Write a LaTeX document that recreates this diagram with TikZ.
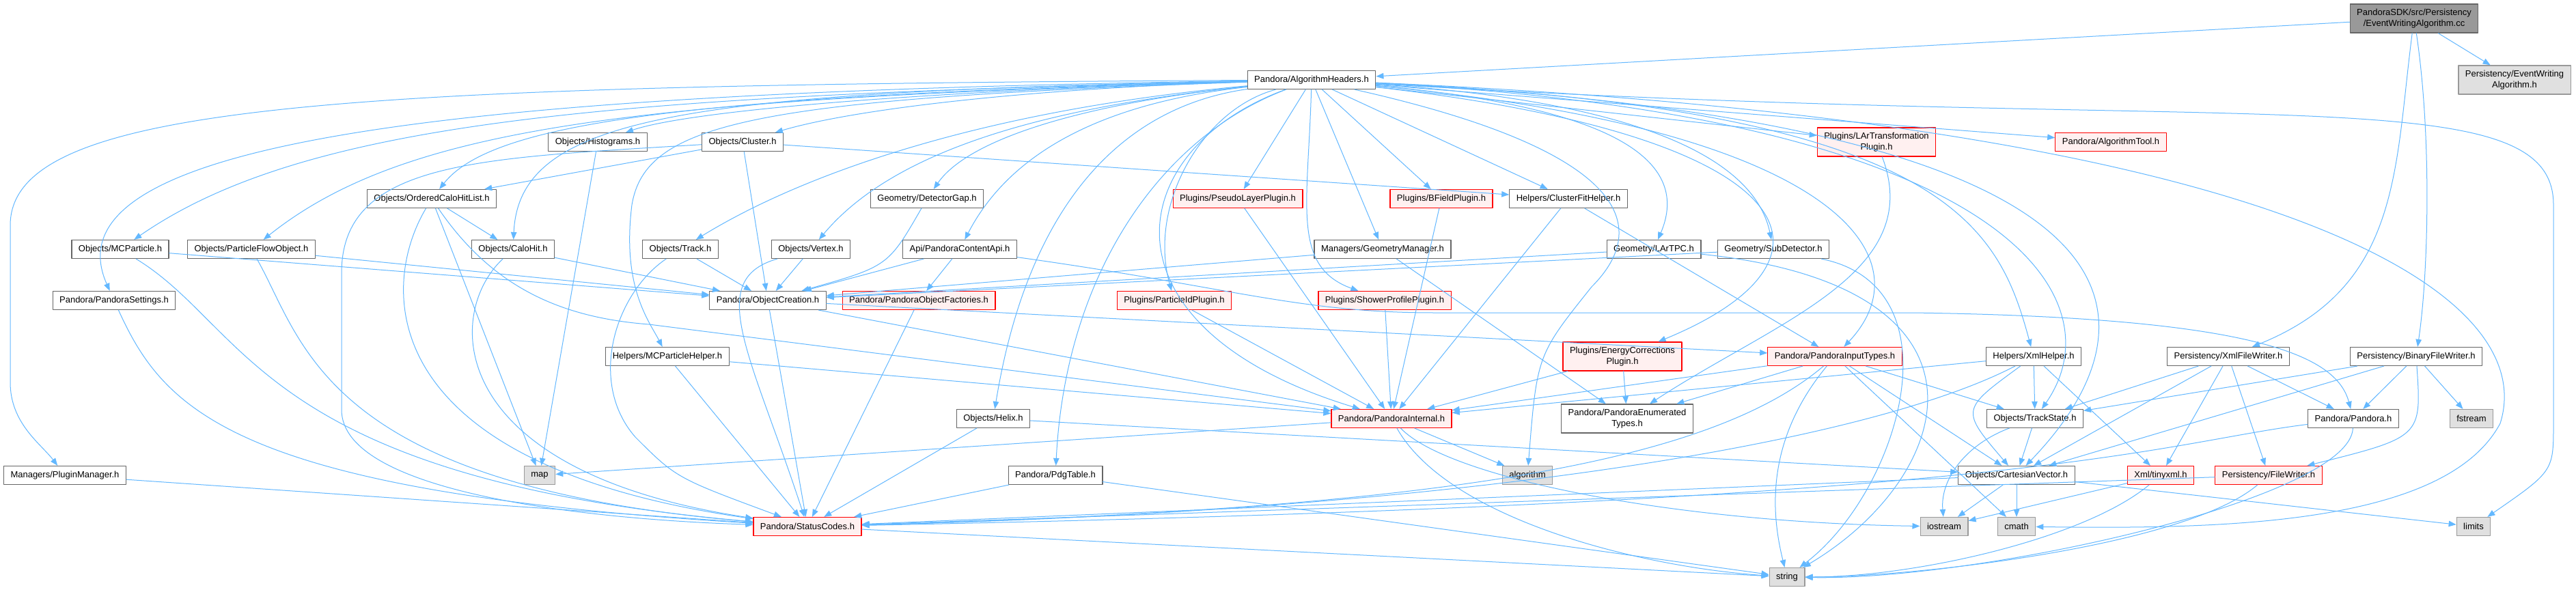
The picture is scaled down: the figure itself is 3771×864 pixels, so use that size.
\documentclass[tikz,border=0pt]{standalone}
\usepackage{fontspec}
\setmainfont{Liberation Sans}
\usetikzlibrary{arrows.meta}

\definecolor{edgeblue}{HTML}{63B8FF}
\definecolor{boxline}{HTML}{666666}
\definecolor{sysline}{HTML}{999999}
\definecolor{sysfill}{HTML}{E0E0E0}
\definecolor{redfill}{HTML}{FFF0F0}
\definecolor{rootfill}{HTML}{999999}

\begin{document}
\begin{tikzpicture}[x=1pt,y=1pt,font=\rmfamily, line cap=round, line join=round]

% ---------- styles ----------
\tikzset{
  hdr/.style={draw=boxline, fill=white, line width=1.2pt, inner xsep=10pt, inner ysep=7pt,
    minimum height=27pt, align=center, font=\fontsize{13}{16}\selectfont},
  hdrred/.style={hdr, draw=red, fill=redfill},
  hdrsys/.style={hdr, draw=sysline, fill=sysfill},
  hdrroot/.style={hdr, draw=boxline, fill=rootfill},
  dep/.style={draw=edgeblue, line width=1pt, -{Triangle[length=11pt,width=8.5pt]}},
}

% ---------- canvas ----------
\fill[white] (0,0) rectangle (3771,-864);
\useasboundingbox (0,0) rectangle (3771,-864);

% ---------- top ----------
\node[hdrroot] (cc) at (3534,-27) {PandoraSDK/src/Persistency\\/EventWritingAlgorithm.cc};
\node[hdrsys] (ewah) at (3681,-117) {Persistency/EventWriting\\Algorithm.h};
\node[hdr] (ah) at (1920,-117) {Pandora/AlgorithmHeaders.h};

% ---------- row 2 ----------
\node[hdr] (hist) at (875,-208) {Objects/Histograms.h};
\node[hdr] (clus) at (1087,-208) {Objects/Cluster.h};
\node[hdrred] (lart) at (2747,-208) {Plugins/LArTransformation\\Plugin.h};
\node[hdrred] (atool) at (3090,-208) {Pandora/AlgorithmTool.h};

% ---------- row 3 ----------
\node[hdr] (ochl) at (632,-291) {Objects/OrderedCaloHitList.h};
\node[hdr] (dgap) at (1357,-291) {Geometry/DetectorGap.h};
\node[hdrred] (psl) at (1812,-291) {Plugins/PseudoLayerPlugin.h};
\node[hdrred] (bfp) at (2110,-291) {Plugins/BFieldPlugin.h};
\node[hdr] (cfh) at (2296,-291) {Helpers/ClusterFitHelper.h};

% ---------- row 4 ----------
\node[hdr] (mcp) at (176,-365) {Objects/MCParticle.h};
\node[hdr] (pfo) at (368,-365) {Objects/ParticleFlowObject.h};
\node[hdr] (chit) at (751,-365) {Objects/CaloHit.h};
\node[hdr] (trk) at (996,-365) {Objects/Track.h};
\node[hdr] (vtx) at (1187,-365) {Objects/Vertex.h};
\node[hdr] (capi) at (1405,-365) {Api/PandoraContentApi.h};
\node[hdr] (gmgr) at (2024,-365) {Managers/GeometryManager.h};
\node[hdr] (tpc) at (2421,-365) {Geometry/LArTPC.h};
\node[hdr] (subd) at (2596,-365) {Geometry/SubDetector.h};

% ---------- row 5 ----------
\node[hdr] (pset) at (167,-440) {Pandora/PandoraSettings.h};
\node[hdr] (ocr) at (1124,-440) {Pandora/ObjectCreation.h};
\node[hdrred] (pof) at (1345,-440) {Pandora/PandoraObjectFactories.h};
\node[hdrred] (pid) at (1719,-440) {Plugins/ParticleIdPlugin.h};
\node[hdrred] (spp) at (2027,-440) {Plugins/ShowerProfilePlugin.h};

% ---------- row 6 ----------
\node[hdr] (mcph) at (977,-522) {Helpers/MCParticleHelper.h};
\node[hdrred] (ecp) at (2375,-522) {Plugins/EnergyCorrections\\Plugin.h};
\node[hdrred] (pit) at (2686,-522) {Pandora/PandoraInputTypes.h};
\node[hdr] (xmlh) at (2977,-522) {Helpers/XmlHelper.h};
\node[hdr] (xfw) at (3262,-522) {Persistency/XmlFileWriter.h};
\node[hdr] (bfw) at (3537,-522) {Persistency/BinaryFileWriter.h};

% ---------- row 7 ----------
\node[hdr] (helix) at (1454,-613) {Objects/Helix.h};
\node[hdrred] (pint) at (2037,-613) {Pandora/PandoraInternal.h};
\node[hdr] (penum) at (2382,-613) {Pandora/PandoraEnumerated\\Types.h};
\node[hdr] (tst) at (2979,-613) {Objects/TrackState.h};
\node[hdr] (pandora) at (3445,-613) {Pandora/Pandora.h};
\node[hdrsys] (fstream) at (3618,-613) {fstream};

% ---------- row 8 ----------
\node[hdr] (pmgr) at (95,-696) {Managers/PluginManager.h};
\node[hdrsys] (map) at (790,-696) {map};
\node[hdr] (pdg) at (1545,-696) {Pandora/PdgTable.h};
\node[hdrsys] (algo) at (2236,-696) {algorithm};
\node[hdr] (cvec) at (2952,-696) {Objects/CartesianVector.h};
\node[hdrred] (txml) at (3163,-696) {Xml/tinyxml.h};
\node[hdrred] (fw) at (3321,-696) {Persistency/FileWriter.h};

% ---------- bottom ----------
\node[hdrred] (scodes) at (1182,-771) {Pandora/StatusCodes.h};
\node[hdrsys] (iostream) at (2846,-771) {iostream};
\node[hdrsys] (cmath) at (2952,-771) {cmath};
\node[hdrsys] (limits) at (3621,-771) {limits};
\node[hdrsys] (string) at (2616,-845) {string};

% ---------- root includes ----------
\draw[dep] (cc) -- (ah);
\draw[dep] (cc) -- (ewah);
\draw[dep] (cc) .. controls (3505,-250) and (3515,-420) .. (xfw);
\draw[dep] (cc) .. controls (3560,-200) and (3555,-400) .. (bfw);

% ---------- AlgorithmHeaders.h includes ----------
\draw[dep] (ah) -- (psl);
\draw[dep] (ah) -- (bfp);
\draw[dep] (ah) -- (cfh);
\draw[dep] (ah) -- (gmgr);
\draw[dep] (ah) -- (lart);
\draw[dep] (ah) -- (atool);
\draw[dep] (ah) .. controls (1300,-135) and (1000,-165) .. (hist);
\draw[dep] (ah) .. controls (1500,-130) and (1250,-160) .. (clus);
\draw[dep] (ah) .. controls (1000,-140) and (720,-180) .. (ochl);
\draw[dep] (ah) .. controls (1000,-135) and (760,-170) .. (chit);
\draw[dep] (ah) .. controls (900,-140) and (450,-175) .. (mcp);
\draw[dep] (ah) .. controls (950,-145) and (600,-180) .. (pfo);
\draw[dep] (ah) .. controls (700,-135) and (60,-200) .. (pset);
\draw[dep] (ah) .. controls (500,-125) and (15,-150) .. (15,-330) -- (15,-560)
  .. controls (15,-620) and (60,-650) .. (pmgr);
\draw[dep] (ah) .. controls (1100,-145) and (945,-180) .. (925,-300)
  .. controls (910,-420) and (950,-470) .. (mcph);
\draw[dep] (ah) .. controls (1400,-165) and (1150,-270) .. (trk);
\draw[dep] (ah) .. controls (1500,-160) and (1300,-230) .. (vtx);
\draw[dep] (ah) .. controls (1600,-150) and (1420,-200) .. (dgap);
\draw[dep] (ah) .. controls (1620,-150) and (1480,-220) .. (capi);
\draw[dep] (ah) .. controls (1620,-160) and (1500,-330) .. (helix);
\draw[dep] (ah) .. controls (1700,-200) and (1560,-400) .. (pdg);
\draw[dep] (ah) .. controls (1640,-220) and (1600,-480) .. (pint);
\draw[dep] (ah) .. controls (1760,-160) and (1680,-300) .. (pid);
\draw[dep] (ah) .. controls (1915,-300) and (1890,-390) .. (spp);
\draw[dep] (ah) .. controls (2380,-220) and (2420,-330) .. (2330,-420)
  .. controls (2250,-520) .. (algo);
\draw[dep] (ah) .. controls (2400,-160) and (2470,-250) .. (tpc);
\draw[dep] (ah) .. controls (2420,-150) and (2570,-240) .. (subd);
\draw[dep] (ah) .. controls (2650,-200) and (2720,-380) .. (ecp);
\draw[dep] (ah) .. controls (2700,-190) and (2820,-380) .. (pit);
\draw[dep] (ah) .. controls (2850,-160) and (2925,-330) .. (xmlh);
\draw[dep] (ah) .. controls (2950,-170) and (3100,-440) .. (tst);
\draw[dep] (ah) .. controls (3200,-180) and (3160,-480) .. (cvec);
\draw[dep] (ah) .. controls (3350,-180) and (3720,-430) .. (3660,-620)
  .. controls (3580,-770) and (3250,-775) .. (cmath);
\draw[dep] (ah) .. controls (3300,-200) and (3738,-110) .. (3738,-300) -- (3738,-620)
  .. controls (3738,-690) .. (limits);

% ---------- object headers ----------
\draw[dep] (hist) -- (map);
\draw[dep] (clus) -- (ochl);
\draw[dep] (clus) -- (ocr);
\draw[dep] (clus) -- (cfh);
\draw[dep] (clus) .. controls (700,-232) and (500,-235) .. (500,-400) -- (500,-600)
  .. controls (500,-720) and (850,-760) .. (scodes);
\draw[dep] (ochl) -- (chit);
\draw[dep] (ochl) -- (map);
\draw[dep] (ochl) .. controls (555,-420) and (545,-680) .. (scodes);
\draw[dep] (ochl) .. controls (720,-420) and (820,-465) .. (950,-475) -- (pint);
\draw[dep] (chit) -- (ocr);
\draw[dep] (chit) .. controls (650,-460) and (650,-690) .. (scodes);
\draw[dep] (mcp) -- (ocr);
\draw[dep] (mcp) .. controls (365,-480) and (380,-700) .. (scodes);
\draw[dep] (pfo) -- (ocr);
\draw[dep] (pfo) .. controls (445,-500) and (470,-710) .. (scodes);
\draw[dep] (pset) .. controls (240,-600) and (340,-720) .. (scodes);
\draw[dep] (pmgr) -- (scodes);
\draw[dep] (trk) -- (ocr);
\draw[dep] (trk) .. controls (900,-430) and (860,-560) .. (930,-640)
  .. controls (990,-700) .. (scodes);
\draw[dep] (vtx) -- (ocr);
\draw[dep] (vtx) .. controls (1030,-410) and (1100,-520) .. (scodes);
\draw[dep] (dgap) .. controls (1300,-390) .. (ocr);
\draw[dep] (capi) -- (ocr);
\draw[dep] (capi) -- (pof);
\draw[dep] (capi) .. controls (1800,-420) and (1900,-458) .. (2100,-458) -- (2800,-458)
  .. controls (3300,-465) and (3420,-520) .. (pandora);

% ---------- geometry and plugins ----------
\draw[dep] (gmgr) -- (ocr);
\draw[dep] (gmgr) -- (penum);
\draw[dep] (tpc) -- (ocr);
\draw[dep] (tpc) .. controls (2950,-420) and (2860,-700) .. (string);
\draw[dep] (subd) -- (ocr);
\draw[dep] (subd) .. controls (2870,-420) and (2780,-720) .. (string);
\draw[dep] (lart) .. controls (2820,-400) and (2600,-470) .. (penum);
\draw[dep] (psl) -- (pint);
\draw[dep] (bfp) -- (pint);
\draw[dep] (cfh) -- (pint);
\draw[dep] (cfh) -- (pit);
\draw[dep] (pid) -- (pint);
\draw[dep] (spp) -- (pint);
\draw[dep] (ocr) -- (scodes);
\draw[dep] (ocr) -- (pint);
\draw[dep] (ocr) -- (pit);
\draw[dep] (pof) -- (scodes);
\draw[dep] (mcph) -- (scodes);
\draw[dep] (mcph) -- (pint);
\draw[dep] (ecp) -- (pint);
\draw[dep] (ecp) -- (penum);

% ---------- input types, xml and writers ----------
\draw[dep] (pit) -- (pint);
\draw[dep] (pit) -- (penum);
\draw[dep] (pit) -- (tst);
\draw[dep] (pit) -- (cvec);
\draw[dep] (pit) -- (cmath);
\draw[dep] (pit) .. controls (2580,-650) and (2595,-760) .. (string);
\draw[dep] (pit) .. controls (2500,-680) and (2100,-745) .. (scodes);
\draw[dep] (xmlh) -- (pint);
\draw[dep] (xmlh) -- (tst);
\draw[dep] (xmlh) .. controls (2870,-600) .. (cvec);
\draw[dep] (xmlh) -- (txml);
\draw[dep] (xmlh) .. controls (2750,-640) and (2200,-745) .. (scodes);
\draw[dep] (xfw) -- (tst);
\draw[dep] (xfw) -- (cvec);
\draw[dep] (xfw) -- (txml);
\draw[dep] (xfw) -- (fw);
\draw[dep] (xfw) -- (pandora);
\draw[dep] (bfw) -- (tst);
\draw[dep] (bfw) -- (cvec);
\draw[dep] (bfw) -- (pandora);
\draw[dep] (bfw) .. controls (3545,-640) .. (fw);
\draw[dep] (bfw) -- (fstream);

% ---------- lower rows ----------
\draw[dep] (helix) -- (scodes);
\draw[dep] (helix) -- (cvec);
\draw[dep] (pint) -- (map);
\draw[dep] (pint) -- (algo);
\draw[dep] (pint) .. controls (2120,-760) and (2400,-830) .. (string);
\draw[dep] (pint) .. controls (2120,-700) and (2450,-765) .. (iostream);
\draw[dep] (tst) -- (cvec);
\draw[dep] (tst) .. controls (2880,-650) and (2840,-700) .. (iostream);
\draw[dep] (pandora) .. controls (3150,-650) and (3000,-735) .. (scodes);
\draw[dep] (pandora) .. controls (3440,-730) and (2900,-850) .. (string);
\draw[dep] (pdg) -- (scodes);
\draw[dep] (pdg) -- (string);
\draw[dep] (cvec) -- (scodes);
\draw[dep] (cvec) -- (iostream);
\draw[dep] (cvec) -- (cmath);
\draw[dep] (cvec) -- (limits);
\draw[dep] (txml) -- (iostream);
\draw[dep] (txml) .. controls (3050,-790) and (2800,-845) .. (string);
\draw[dep] (fw) -- (scodes);
\draw[dep] (fw) .. controls (3200,-800) and (2800,-845) .. (string);
\draw[dep] (scodes) -- (string);

\end{tikzpicture}
\end{document}
